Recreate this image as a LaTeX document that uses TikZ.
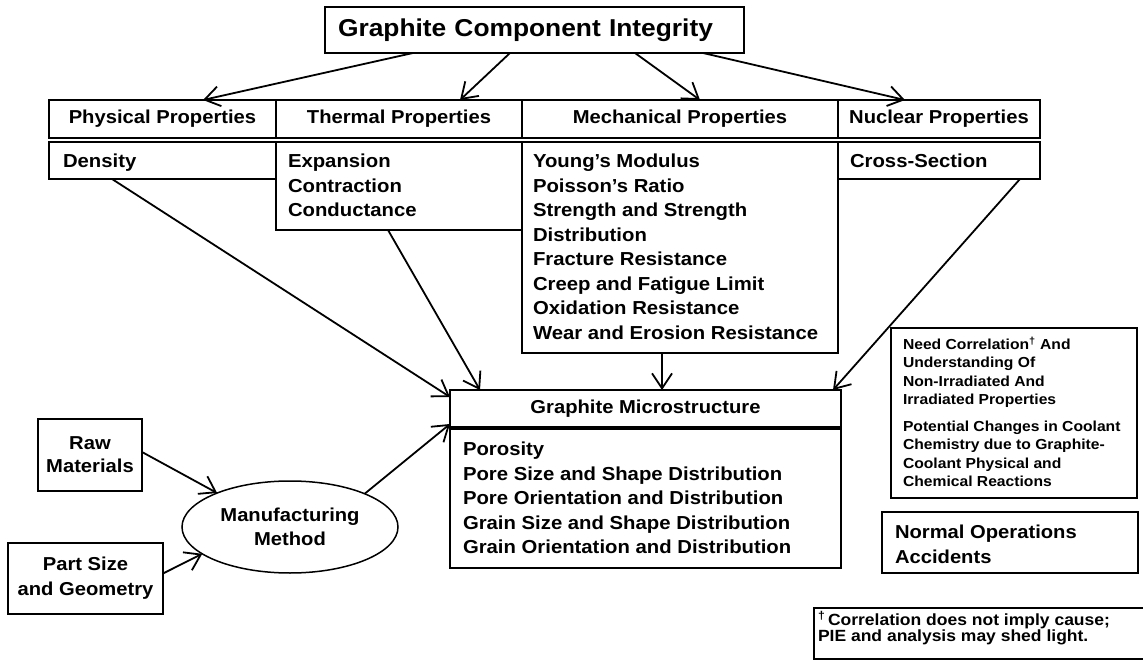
\documentclass[tikz,border=0pt]{standalone}
\usepackage{fontspec}
\setmainfont{Liberation Sans}[FakeStretch=1.08]
\usetikzlibrary{arrows.meta,shapes.geometric,calc}

\tikzset{
  box/.style={draw, line width=1.8pt, rectangle, inner sep=0pt, outer sep=0pt, anchor=north west},
  headbox/.style={box, minimum height=38pt, font=\fontsize{18.7}{22}\selectfont\bfseries},
  txt/.style={anchor=north west, inner sep=0pt, outer sep=0pt, align=left,
              font=\fontsize{18.8}{24.5}\selectfont\bfseries},
  smalltxt/.style={txt, font=\fontsize{14.5}{18.3}\selectfont\bfseries},
  link/.style={line width=1.8pt, -{Straight Barb[length=15pt,width=20pt,line width=1.8pt]}},
}

\begin{document}
\begin{tikzpicture}[x=1pt, y=-1pt]
\useasboundingbox (0,0) rectangle (1143,660);

% top level
\node[box, minimum height=46pt, text width=393pt, inner xsep=13pt, align=left,
      font=\fontsize{24.4}{28}\selectfont\bfseries] (title) at (325,7) {Graphite Component Integrity};

% property headers
\node[headbox, minimum width=227pt] (phys)  at (49,100)  {Physical Properties};
\node[headbox, minimum width=246pt] (therm) at (276,100) {Thermal Properties};
\node[headbox, minimum width=316pt] (mech)  at (522,100) {Mechanical Properties};
\node[headbox, minimum width=202pt] (nucl)  at (838,100) {Nuclear Properties};

% property lists
\node[box, minimum width=227pt, minimum height=37pt]  (dens)   at (49,142)  {};
\node[box, minimum width=246pt, minimum height=88pt]  (thermc) at (276,142) {};
\node[box, minimum width=316pt, minimum height=211pt] (mechc)  at (522,142) {};
\node[box, minimum width=202pt, minimum height=37pt]  (nuclc)  at (838,142) {};

\node[txt] (densT)   at (63,154)  {Density};
\node[txt] (thermT)  at (288,154) {Expansion\\Contraction\\Conductance};
\node[txt] (mechT)   at (533,154) {Young’s Modulus\\Poisson’s Ratio\\Strength and Strength\\Distribution\\Fracture Resistance\\Creep and Fatigue Limit\\Oxidation Resistance\\Wear and Erosion Resistance};
\node[txt] (nuclT)   at (850,154) {Cross-Section};

% microstructure
\node[headbox, minimum width=391pt, minimum height=37pt] (mhead) at (450,390) {Graphite Microstructure};
\node[box, minimum width=391pt, minimum height=139pt] (mbody) at (450,428.6) {};
\node[txt] (mbodyT) at (463,442) {Porosity\\Pore Size and Shape Distribution\\Pore Orientation and Distribution\\Grain Size and Shape Distribution\\Grain Orientation and Distribution};

% manufacturing inputs
\node[box, minimum width=104pt, minimum height=72pt, align=center,
      font=\fontsize{18.7}{23}\selectfont\bfseries] (raw) at (38,419) {Raw\\Materials};
\node[box, minimum width=155pt, minimum height=71pt, align=center,
      font=\fontsize{18.7}{25}\selectfont\bfseries] (part) at (8,543) {Part Size\\and Geometry};
\node[ellipse, draw, line width=1.5pt, minimum width=216pt, minimum height=92pt, inner sep=0pt,
      outer sep=0pt, align=center, font=\fontsize{18.7}{23.5}\selectfont\bfseries] (manu) at (290,527) {Manufacturing\\Method};

% notes
\node[box, minimum width=246pt, minimum height=170pt] (notes) at (891,328) {};
\node[smalltxt] (notesA) at (903,337) {Need Correlation\textsuperscript{†} And\\Understanding Of\\Non-Irradiated And\\Irradiated Properties};
\node[smalltxt] (notesB) at (903,421) {Potential Changes in Coolant\\Chemistry due to Graphite-\\Coolant Physical and\\Chemical Reactions};

\node[box, minimum width=256pt, minimum height=61pt] (ops) at (882,512) {};
\node[txt, font=\fontsize{18.7}{25}\selectfont\bfseries] (opsT) at (895,525) {Normal Operations\\Accidents};

\begin{scope}
\clip (0,0) rectangle (1143,660);
\node[box, minimum width=340pt, minimum height=51pt] (foot) at (814,608) {};
\end{scope}
\node[txt, font=\fontsize{16.2}{16.5}\selectfont\bfseries] (footT) at (818,611) {\textsuperscript{†}\,Correlation does not imply cause;\\PIE and analysis may shed light.};

% connectors
\draw[link] ([xshift=88pt]title.south west)  -- ([xshift=154pt]phys.north west);
\draw[link] ([xshift=185pt]title.south west) -- ([xshift=184pt]therm.north west);
\draw[link] ([xshift=310pt]title.south west) -- ([xshift=178pt]mech.north west);
\draw[link] ([xshift=378pt]title.south west) -- ([xshift=67pt]nucl.north west);

\draw[link] ([xshift=63pt]dens.south west)    -- ([yshift=-7pt]mhead.north west);
\draw[link] ([xshift=112pt]thermc.south west) -- ([xshift=30pt]mhead.north west);
\draw[link] ([xshift=140pt]mechc.south west)  -- ([xshift=212pt]mhead.north west);
\draw[link] ([xshift=182pt]nuclc.south west)  -- ([xshift=-8pt]mhead.north east);

\draw[link] (manu.24) -- ([yshift=3pt]mhead.south west);
\draw[link] ([yshift=3pt]raw.east) -- (manu.155);
\draw[link] ([yshift=5pt]part.east) -- (manu.197);
\end{tikzpicture}
\end{document}
